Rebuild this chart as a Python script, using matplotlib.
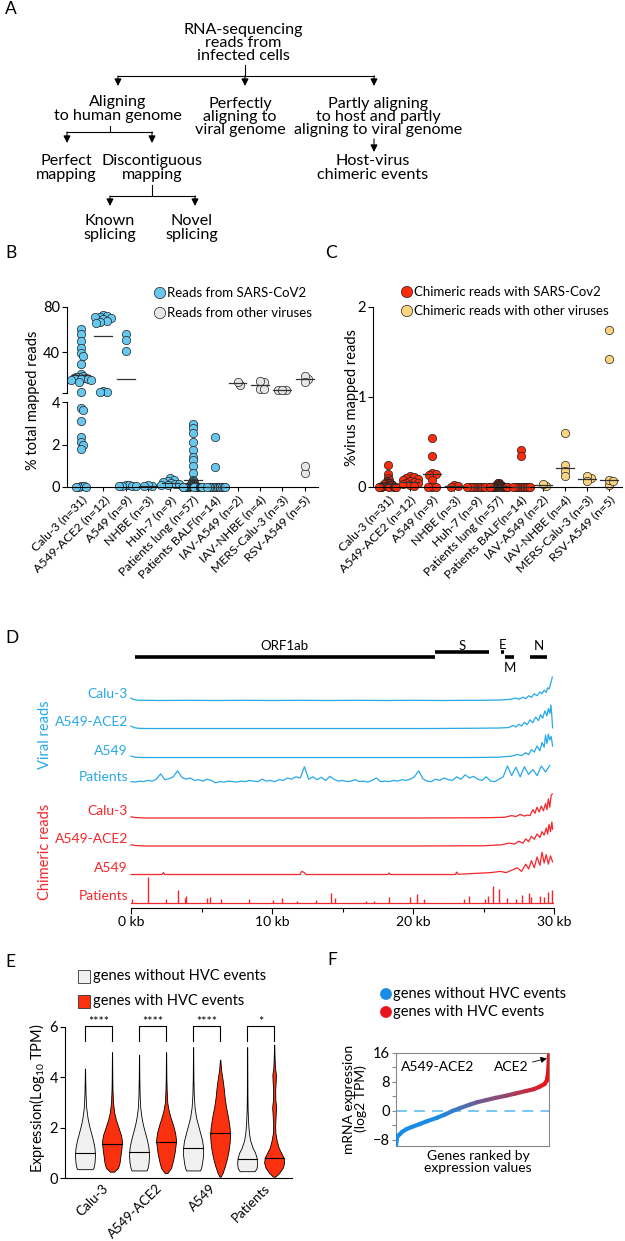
import numpy as np
import matplotlib.pyplot as plt
from matplotlib.collections import LineCollection
from matplotlib.patches import Rectangle

plt.rcParams['font.family'] = ['Lato', 'DejaVu Sans']
plt.rcParams['mathtext.fontset'] = 'custom'
plt.rcParams['mathtext.rm'] = 'Lato'
plt.rcParams['axes.linewidth'] = 0.8

W, H = 625, 1241

# ---------------- data ----------------
# B: % total mapped reads
b_groups = ['Calu-3 (n=31)', 'A549-ACE2 (n=12)', 'A549 (n=9)', 'NHBE (n=3)', 'Huh-7 (n=9)',
            'Patients lung (n=57)', 'Patients BALF(n=14)', 'IAV-A549 (n=2)', 'IAV-NHBE (n=4)',
            'MERS-Calu-3 (n=3)', 'RSV-A549 (n=5)']
b_calu3 = [60.3, 55.8, 50.2, 44.1, 39.1, 36.7, 29.3, 20.8, 19.0, 18.5, 17.8, 17.5, 17.2, 16.7, 16.2,
           15.8, 15.5, 14.0, 5.2, 3.73, 3.62, 3.1, 2.34, 2.13, 2.0, 1.79, 0.04, 0.03, 0.02, 0.02, 0.01]
b_ace2 = [73, 72, 71.5, 71, 70, 69, 68, 67, 66, 6.2, 5.0, 4.6]
b_a549 = [55.8, 50.8, 41.1, 0.1, 0.08, 0.06, 0.05, 0.04, 0.03]
b_nhbe = [0.06, 0.08, 0.05]
b_huh7 = [0.44, 0.35, 0.3, 0.25, 0.2, 0.15, 0.12, 0.1, 0.08]
b_lung = [2.95, 2.79, 2.53, 2.1, 1.74, 1.43, 1.27, 1.0, 0.64, 0.33,
          0.3, 0.25, 0.2, 0.18, 0.15, 0.12, 0.1, 0.1, 0.08, 0.08,
          0.06, 0.05, 0.05, 0.04, 0.04, 0.03, 0.03, 0.03, 0.02, 0.02,
          0.02, 0.02, 0.01, 0.01, 0.01, 0.01, 0.01, 0.01, 0.01, 0.01, 0.01,
          0, 0, 0, 0, 0, 0, 0, 0, 0, 0, 0, 0, 0, 0, 0, 0]
b_balf = [2.34, 0.96, 0, 0, 0, 0, 0, 0, 0, 0, 0, 0, 0, 0]
b_iav_a549 = [11.1, 14.0]
b_iav_nhbe = [14.0, 14.6, 7.2, 7.2]
b_mers = [6.6, 6.6, 6.7]
b_rsv = [16.4, 18.7, 13.4, 0.64, 1.0]
b_vals = [b_calu3, b_ace2, b_a549, b_nhbe, b_huh7, b_lung, b_balf, b_iav_a549, b_iav_nhbe, b_mers, b_rsv]
b_center = [20, 54.4, 16.7, 0.05, 0.2, 0.33, 0.02, 12.5, 11, 6.6, 16]

# C: % virus mapped reads (chimeric)
c_calu3 = [0.25, 0.15, 0.1, 0.08, 0.07, 0.06, 0.05, 0.05, 0.04, 0.04, 0.03, 0.03, 0.03, 0.02, 0.02,
           0.02, 0.02, 0.01, 0.01, 0.01, 0.01, 0.01, 0, 0, 0, 0, 0, 0, 0, 0, 0]
c_ace2 = [0.12, 0.11, 0.1, 0.09, 0.08, 0.07, 0.06, 0.05, 0.04, 0.03, 0.02, 0.01]
c_a549 = [0.55, 0.34, 0.16, 0.14, 0.13, 0.08, 0, 0, 0]
c_nhbe = [0.02, 0.01, 0.0]
c_huh7 = [0, 0, 0, 0, 0, 0, 0, 0, 0]
c_lung = [0.05, 0.04, 0.04, 0.03, 0.03, 0.03, 0.02, 0.02, 0.02, 0.02, 0.02, 0.02,
          0.01, 0.01, 0.01, 0.01, 0.01, 0.01, 0.01, 0.01, 0.01, 0.01] + [0] * 35
c_balf = [0.41, 0.34] + [0] * 12
c_iav_a549 = [0.01, 0.03]
c_iav_nhbe = [0.6, 0.25, 0.18, 0.12]
c_mers = [0.1, 0.12, 0.07]
c_rsv = [1.74, 1.42, 0.02, 0.08, 0.07]
c_vals = [c_calu3, c_ace2, c_a549, c_nhbe, c_huh7, c_lung, c_balf, c_iav_a549, c_iav_nhbe, c_mers, c_rsv]
c_center = [0.03, 0.06, 0.146, 0.01, 0, 0.01, 0, 0.02, 0.21, 0.09, 0.08]

# D: coverage along SARS-CoV-2 genome (kb, relative height)
gene_names = ['ORF1ab', 'S', 'E', 'M', 'N']
gene_start = [0.266, 21.563, 26.245, 26.523, 28.274]
gene_end = [21.555, 25.384, 26.472, 27.191, 29.533]

v_calu3_pos = [0, 0.2, 0.5, 1, 2, 4, 6, 8, 10, 12, 14, 16, 18, 20, 22, 24, 25, 26, 26.5, 27, 27.3, 27.5,
               27.8, 28.0, 28.2, 28.4, 28.6, 28.8, 29.0, 29.15, 29.3, 29.45, 29.55, 29.65, 29.75, 29.82, 29.88]
v_calu3_val = [0.12, 0.06, 0.03, 0.03, 0.02, 0.03, 0.02, 0.03, 0.02, 0.03, 0.02, 0.03, 0.02, 0.03, 0.02,
               0.03, 0.03, 0.04, 0.05, 0.08, 0.12, 0.07, 0.16, 0.1, 0.22, 0.15, 0.3, 0.22, 0.38, 0.3, 0.45,
               0.36, 0.55, 0.5, 0.7, 0.85, 1.0]
v_ace2_pos = [0, 0.2, 0.5, 1, 3, 6, 9, 12, 15, 18, 21, 24, 26, 26.8, 27.1, 27.3, 27.5, 27.7, 27.9, 28.1,
              28.3, 28.5, 28.7, 28.9, 29.05, 29.2, 29.35, 29.5, 29.6, 29.7, 29.78, 29.84, 29.9]
v_ace2_val = [0.12, 0.06, 0.03, 0.02, 0.02, 0.02, 0.02, 0.02, 0.02, 0.02, 0.02, 0.03, 0.04, 0.06, 0.15,
              0.08, 0.2, 0.12, 0.28, 0.18, 0.38, 0.26, 0.5, 0.35, 0.6, 0.45, 0.75, 0.55, 0.85, 0.65, 1.0,
              0.6, 0.05]
v_a549_pos = [0, 0.3, 1, 4, 8, 12, 16, 20, 24, 26, 27, 27.4, 27.7, 28.0, 28.2, 28.4, 28.6, 28.8, 29.0,
              29.15, 29.3, 29.4, 29.5, 29.6, 29.7, 29.8, 29.9]
v_a549_val = [0.08, 0.03, 0.02, 0.02, 0.02, 0.02, 0.02, 0.02, 0.02, 0.03, 0.08, 0.15, 0.1, 0.22, 0.14,
              0.35, 0.25, 0.5, 0.3, 0.65, 0.45, 0.95, 0.6, 1.0, 0.75, 0.9, 0.5]
v_pat_val = [0.1, 0.08, 0.12, 0.1, 0.15, 0.12, 0.2, 0.42, 0.18, 0.22,
             0.3, 0.55, 0.28, 0.2, 0.25, 0.15, 0.18, 0.12, 0.2, 0.15,
             0.05, 0.1, 0.08, 0.12, 0.1, 0.08, 0.12, 0.1, 0.15, 0.12,
             0.1, 0.2, 0.12, 0.15, 0.1, 0.18, 0.15, 0.25, 0.2, 0.3,
             0.25, 0.72, 0.2, 0.3, 0.18, 0.28, 0.15, 0.32, 0.2, 0.12,
             0.15, 0.1, 0.12, 0.18, 0.1, 0.12, 0.08, 0.15, 0.25, 0.1,
             0.12, 0.1, 0.15, 0.12, 0.18, 0.15, 0.2, 0.3, 0.55, 0.22,
             0.12, 0.1, 0.2, 0.15, 0.25, 0.18, 0.15, 0.3, 0.2, 0.38,
             0.25, 0.32, 0.2, 0.15, 0.3, 0.12, 0.1, 0.2, 0.3, 0.75,
             0.35, 0.7, 0.3, 0.72, 0.4, 0.6, 0.35, 0.75, 0.5, 0.78]
v_pat_pos = np.arange(len(v_pat_val)) * 0.3

r_calu3_pos = [0, 0.3, 1, 5, 10, 15, 20, 25, 26.5, 27.0, 27.3, 27.6, 27.9, 28.1, 28.3, 28.5, 28.65, 28.8,
               28.95, 29.1, 29.25, 29.4, 29.5, 29.6, 29.7, 29.8, 29.88]
r_calu3_val = [0.05, 0.02, 0, 0, 0, 0, 0, 0.01, 0.03, 0.1, 0.06, 0.15, 0.08, 0.12, 0.1, 0.35, 0.2, 0.45,
               0.25, 0.5, 0.3, 0.6, 0.35, 0.8, 0.45, 0.95, 1.0]
r_ace2_pos = [0, 0.3, 1, 5, 10, 15, 20, 25, 26.3, 26.8, 27.2, 27.5, 27.8, 28.0, 28.2, 28.4, 28.6, 28.8,
              29.0, 29.15, 29.3, 29.45, 29.55, 29.65, 29.75, 29.85, 29.9]
r_ace2_val = [0.05, 0.02, 0, 0, 0, 0, 0, 0.01, 0.05, 0.12, 0.08, 0.2, 0.12, 0.3, 0.18, 0.4, 0.28, 0.5,
              0.35, 0.6, 0.45, 0.75, 0.5, 0.9, 0.6, 1.0, 0.7]
r_a549_pos = [0, 2.2, 2.3, 2.4, 6, 12.0, 12.1, 12.3, 12.4, 18.2, 18.3, 18.4, 23.0, 23.1, 23.2, 24.2, 25.5,
              25.8, 26.2, 26.6, 27.0, 27.4, 27.7, 28.0, 28.2, 28.4, 28.6, 28.8, 29.0, 29.15, 29.3, 29.45,
              29.6, 29.75, 29.9]
r_a549_val = [0.02, 0.02, 0.1, 0.02, 0.02, 0.02, 0.15, 0.1, 0.02, 0.02, 0.08, 0.02, 0.02, 0.12, 0.03, 0.06,
              0.1, 0.12, 0.15, 0.1, 0.2, 0.3, 0.15, 0.45, 0.25, 0.6, 0.3, 0.75, 0.4, 0.95, 0.5, 0.85, 0.45,
              0.8, 0.55]
r_pat_pos = [0.1, 1.2, 2.5, 3.3, 3.8, 3.9, 5.4, 5.6, 6.4, 8.4, 10.1, 10.7, 11.8, 13.1, 14.2, 14.5, 16.7,
             17.2, 18.3, 19.8, 20.3, 20.8, 23.6, 24.0, 25.1, 25.3, 25.7, 26.1, 26.7, 27.3, 27.7, 28.2,
             28.4, 29.0, 29.3, 29.6, 29.85]
r_pat_val = [0.15, 1.08, 0.15, 0.53, 0.2, 0.3, 0.2, 0.25, 0.15, 0.17, 0.12, 0.2, 0.1, 0.13, 0.42, 0.2,
             0.1, 0.1, 0.25, 0.25, 0.38, 0.15, 0.15, 0.3, 0.15, 0.3, 0.7, 0.6, 0.2, 0.15, 0.35, 0.4,
             0.25, 0.3, 0.25, 0.45, 0.55]
track_labels = ['Calu-3', 'A549-ACE2', 'A549', 'Patients']

# E: expression violins (level, relative density)
e_groups = ['Calu-3', 'A549-ACE2', 'A549', 'Patients']
e_levels = [
    [0.35, 0.4, 0.6, 0.9, 1.2, 1.5, 1.8, 2.1, 2.4, 2.8, 3.3, 3.8, 4.35],
    [0.25, 0.4, 0.6, 0.9, 1.2, 1.45, 1.7, 2.0, 2.3, 2.6, 3.0, 3.5, 4.0, 5.0],
    [0.3, 0.4, 0.6, 0.9, 1.2, 1.5, 1.8, 2.1, 2.4, 2.8, 3.3, 4.0, 4.9],
    [0.2, 0.4, 0.7, 1.0, 1.3, 1.5, 1.8, 2.1, 2.4, 2.7, 3.0, 3.5, 4.0, 5.0],
    [0.3, 0.4, 0.6, 0.9, 1.2, 1.5, 1.8, 2.1, 2.4, 2.8, 3.3, 4.0, 5.2],
    [0.05, 0.2, 0.5, 0.8, 1.1, 1.4, 1.7, 2.0, 2.4, 2.8, 3.2, 3.6, 3.9, 4.3, 4.7],
    [0.27, 0.4, 0.6, 0.8, 1.0, 1.2, 1.5, 1.8, 2.2, 2.7, 3.3, 4.2, 5.2],
    [0.05, 0.2, 0.4, 0.6, 0.8, 1.0, 1.2, 1.5, 1.8, 2.1, 2.5, 2.8, 3.1, 3.5, 3.8, 4.1, 4.4, 4.8, 5.3],
]
e_density = [
    [0.75, 0.85, 0.95, 1.0, 0.95, 0.8, 0.6, 0.4, 0.25, 0.12, 0.06, 0.03, 0.01],
    [0.2, 0.6, 0.75, 0.85, 0.95, 1.0, 0.9, 0.65, 0.4, 0.22, 0.1, 0.05, 0.03, 0.01],
    [0.75, 0.85, 0.95, 1.0, 0.95, 0.8, 0.6, 0.4, 0.25, 0.12, 0.06, 0.03, 0.01],
    [0.15, 0.5, 0.7, 0.85, 0.95, 1.0, 0.9, 0.7, 0.45, 0.25, 0.12, 0.06, 0.03, 0.01],
    [0.7, 0.8, 0.9, 1.0, 1.0, 0.9, 0.7, 0.5, 0.3, 0.15, 0.07, 0.03, 0.01],
    [0.05, 0.25, 0.5, 0.7, 0.85, 0.95, 1.0, 0.95, 0.8, 0.6, 0.45, 0.35, 0.25, 0.1, 0.02],
    [0.75, 0.95, 1.0, 0.95, 0.8, 0.55, 0.3, 0.18, 0.1, 0.05, 0.03, 0.02, 0.01],
    [0.1, 0.5, 0.85, 1.0, 0.95, 0.7, 0.45, 0.25, 0.12, 0.1, 0.15, 0.2, 0.12, 0.1, 0.15, 0.18, 0.08, 0.04, 0.01],
]
e_median = [1.0, 1.36, 1.03, 1.44, 1.2, 1.8, 0.76, 0.78]
e_stars = ['****', '****', '****', '*']

# F: ranked expression curve
f_rank = [0, 0.005, 0.01, 0.026, 0.04, 0.07, 0.1, 0.157, 0.2, 0.268, 0.32, 0.37, 0.42, 0.48, 0.53, 0.59,
          0.65, 0.72, 0.78, 0.85, 0.9, 0.94, 0.97, 0.985, 0.99, 0.995, 1.0]
f_vals = [-9.7, -7.8, -7.0, -6.4, -5.8, -5.0, -4.5, -3.6, -2.9, -1.9, -1.0, 0.0, 0.8, 1.7, 2.4, 3.0,
          3.6, 4.2, 4.8, 5.5, 6.0, 6.7, 7.4, 8.3, 9.3, 11.0, 15.4]
f_hvc = [0, 0, 0, 0, 0, 0, 0, 0, 0, 0, 0.05, 0.12, 0.2, 0.3, 0.38, 0.45, 0.5, 0.58, 0.68, 0.78, 0.85,
         0.92, 1.0, 1.0, 1.0, 1.0, 1.0]

# ---------------- styles ----------------
BLUE_B, GRAY_B = '#66c8ee', '#e6e6e6'
RED_C, YEL_C = '#fa2c0c', '#fbd480'
BLUE_D, RED_D = '#27a9e8', '#f5262b'
GRAY_E, RED_E = '#f0f0f0', '#fb300f'
BLUE_F, RED_F = np.array([0.10, 0.55, 0.90]), np.array([0.92, 0.08, 0.10])

fig = plt.figure(figsize=(W / 100, H / 100), dpi=100)


def box(l, t, r, b):
    return fig.add_axes([l / W, 1 - b / H, (r - l) / W, (b - t) / H])


ov = box(0, 0, W, H)
ov.set_xlim(0, W)
ov.set_ylim(H, 0)
ov.axis('off')

for lab, x, y in [('A', 5, 9), ('B', 5, 253), ('C', 325, 253), ('D', 5, 638), ('E', 5, 962), ('F', 327, 960)]:
    ov.text(x, y, lab, fontsize=12.5, va='center', ha='left')

# ---------------- A: flow chart ----------------
def ftext(x, y, s):
    ov.text(x, y, s, ha='center', va='center', fontsize=11.6, linespacing=0.92)


def fline(xs, ys):
    ov.plot(xs, ys, color='k', lw=0.8)


def farrow(x, y0, y1):
    ov.annotate('', xy=(x, y1), xytext=(x, y0),
                arrowprops=dict(arrowstyle='-|>,head_length=0.6,head_width=0.3', mutation_scale=7,
                                lw=0.8, color='k', shrinkA=0, shrinkB=0))


ftext(243, 43, 'RNA-sequencing\nreads from\ninfected cells')
fline([245, 245], [65, 76])
fline([118, 374], [76, 76])
for x in (118, 245, 374):
    farrow(x, 76, 86)
ftext(118, 109, 'Aligning\nto human genome')
ftext(240, 117, 'Perfectly\naligning to\nviral genome')
ftext(378, 117, 'Partly aligning\nto host and partly\naligning to viral genome')
farrow(374, 139, 152)
ftext(373, 168, 'Host-virus\nchimeric events')
fline([110, 110], [126, 132])
fline([67, 152], [132, 132])
farrow(67, 132, 143)
farrow(152, 132, 143)
ftext(66, 168, 'Perfect\nmapping')
ftext(152, 168, 'Discontiguous\nmapping')
fline([152, 152], [185, 196])
fline([110, 195], [196, 196])
farrow(110, 196, 206)
farrow(195, 196, 206)
ftext(110, 228, 'Known\nsplicing')
ftext(192, 228, 'Novel\nsplicing')


# ---------------- B / C: dot plots ----------------
def swarm(ypx, d, maxw):
    ypx = np.asarray(ypx, float)
    out = np.zeros(len(ypx))
    px_, py_ = [], []
    for k in np.argsort(-ypx, kind='stable'):
        y = ypx[k]
        cands = [0.0]
        for a, b in zip(px_, py_):
            dy = abs(b - y)
            if dy < d:
                dx = np.sqrt(d * d - dy * dy)
                cands += [a + dx, a - dx]
        cands.sort(key=abs)
        c = cands[-1]
        for c0 in cands:
            if all((c0 - a) ** 2 + (y - b) ** 2 >= d * d - 1e-6 for a, b in zip(px_, py_)):
                c = c0
                break
        out[k] = c
        px_.append(c)
        py_.append(y)
    m = np.abs(out).max() if len(out) else 0
    if m > maxw:
        out *= maxw / m
    return out


def style_dot_axis(ax, groups, bottom=True):
    ax.spines['top'].set_visible(False)
    ax.spines['right'].set_visible(False)
    ax.tick_params(axis='y', labelsize=10.5, length=3.5, width=0.8, pad=1.5)
    if bottom:
        ax.set_xticks(range(len(groups)))
        ax.set_xticklabels(groups, rotation=45, ha='right', va='top', rotation_mode='anchor', fontsize=8.8)
        ax.tick_params(axis='x', length=3, width=0.8, pad=2)
    else:
        ax.spines['bottom'].set_visible(False)
        ax.set_xticks([])


XL_B = (-0.63, 10.6)
bu = box(67, 307, 318, 393)
bl = box(67, 402, 318, 487)
for ax in (bu, bl):
    ax.set_xlim(*XL_B)
    ax.patch.set_visible(False)
bu.set_ylim(4, 80)
bl.set_ylim(0, 4)
style_dot_axis(bu, b_groups, bottom=False)
style_dot_axis(bl, b_groups)
bu.set_yticks([4, 40, 80])
bu.set_yticklabels(['', '40', '80'])
bl.set_yticks([0, 2, 4])

ppu_b = (318 - 67) / (XL_B[1] - XL_B[0])
for i, vals in enumerate(b_vals):
    vals = np.asarray(vals, float)
    col = BLUE_B if i < 7 else GRAY_B
    ypx = [(bu if v >= 4 else bl).transData.transform((0, v))[1] for v in vals]
    off = swarm(ypx, 4.2, 10) / ppu_b
    for ax, mask in ((bu, vals >= 4), (bl, vals < 4)):
        if mask.any():
            ax.scatter(i + off[mask], vals[mask], s=36, c=col, edgecolors='#222222', linewidths=0.5,
                       clip_on=False, zorder=2)
    cax = bu if b_center[i] >= 4 else bl
    cax.plot([i - 0.4, i + 0.4], [b_center[i]] * 2, color='#333333', lw=0.9, zorder=3, clip_on=False)

ov.text(33, 400, '% total mapped reads', rotation=90, ha='center', va='center', fontsize=10.5)
ov.scatter([160, 160], [293, 313], s=66, c=[BLUE_B, GRAY_B], edgecolors='#222222', linewidths=0.5)
ov.text(167, 293, 'Reads from SARS-CoV2', va='center', fontsize=9.5)
ov.text(167, 313, 'Reads from other viruses', va='center', fontsize=9.5)

XL_C = (-0.68, 10.59)
cx = box(373, 307, 622, 487)
cx.set_xlim(*XL_C)
cx.set_ylim(0, 2)
cx.patch.set_visible(False)
style_dot_axis(cx, b_groups)
cx.set_yticks([0, 1, 2])
ppu_c = (622 - 373) / (XL_C[1] - XL_C[0])
for i, vals in enumerate(c_vals):
    vals = np.asarray(vals, float)
    col = RED_C if i < 7 else YEL_C
    ypx = [cx.transData.transform((0, v))[1] for v in vals]
    off = swarm(ypx, 4.2, 9) / ppu_c
    cx.scatter(i + off, vals, s=36, c=col, edgecolors='#222222', linewidths=0.5, clip_on=False, zorder=2)
    cx.plot([i - 0.4, i + 0.4], [c_center[i]] * 2, color='#333333', lw=0.9, zorder=3, clip_on=False)

ov.text(352, 397, '%virus mapped reads', rotation=90, ha='center', va='center', fontsize=10.5)
ov.scatter([407, 407], [292, 311], s=66, c=[RED_C, YEL_C], edgecolors='#222222', linewidths=0.5)
ov.text(414, 292, 'Chimeric reads with SARS-Cov2', va='center', fontsize=9.5)
ov.text(414, 311, 'Chimeric reads with other viruses', va='center', fontsize=9.5)

# ---------------- D: coverage tracks ----------------
AMP = 24
dx = box(131, 640, 554, 908)
dx.set_xlim(0, 30)
dx.set_ylim(0, 268)
dx.patch.set_visible(False)
for s in ('top', 'right', 'left'):
    dx.spines[s].set_visible(False)
dx.set_yticks([])
dx.set_xticks([0, 10, 20, 30])
dx.set_xticklabels(['0 kb', '10 kb', '20 kb', '30 kb'], fontsize=10)
dx.set_xticks([5, 15, 25], minor=True)
dx.tick_params(axis='x', which='major', length=4, width=0.8, pad=2)
dx.tick_params(axis='x', which='minor', length=3, width=0.8)

bases = [207, 179, 150, 124, 90, 62, 33, 5]
track_data = [(v_calu3_pos, v_calu3_val), (v_ace2_pos, v_ace2_val), (v_a549_pos, v_a549_val),
              (v_pat_pos, v_pat_val), (r_calu3_pos, r_calu3_val), (r_ace2_pos, r_ace2_val),
              (r_a549_pos, r_a549_val)]
for k, (pos, val) in enumerate(track_data):
    col = BLUE_D if k < 4 else RED_D
    dx.plot(pos, bases[k] + AMP * np.asarray(val), color=col, lw=0.9, clip_on=False)
dx.plot([0, 29.9], [bases[7], bases[7]], color=RED_D, lw=0.9)
dx.vlines(r_pat_pos, bases[7], bases[7] + AMP * np.asarray(r_pat_val), color=RED_D, lw=1.0)

for k, b in enumerate(bases):
    col = BLUE_D if k < 4 else RED_D
    ov.text(128, 908 - b - 7, track_labels[k % 4], ha='right', va='center', fontsize=10, color=col)
ov.text(45, 735, 'Viral reads', rotation=90, ha='center', va='center', fontsize=10.5, color=BLUE_D)
ov.text(45, 852, 'Chimeric reads', rotation=90, ha='center', va='center', fontsize=10.5, color=RED_D)

gene_y = [251, 256, 256, 251, 251]
gene_label_y = [262, 262, 263, 240, 262]
for name, s, e, gy, ly in zip(gene_names, gene_start, gene_end, gene_y, gene_label_y):
    dx.plot([s, e], [gy, gy], color='k', lw=2.6, solid_capstyle='butt', clip_on=False)
    dx.text((s + e) / 2, ly, name, ha='center', va='center', fontsize=9.5, clip_on=False)

# ---------------- E: violins ----------------
ex = box(65, 1027, 292, 1178)
ex.set_xlim(-0.62, 3.58)
ex.set_ylim(0, 6)
ex.patch.set_visible(False)
ex.spines['top'].set_visible(False)
ex.spines['right'].set_visible(False)
ex.set_yticks([0, 2, 4, 6])
ex.tick_params(axis='y', labelsize=10.5, length=3.5, width=0.8, pad=1.5)
ex.set_xticks(np.arange(4) + 0.06)
ex.set_xticklabels(e_groups, rotation=45, ha='right', va='top', rotation_mode='anchor', fontsize=9.6)
ex.tick_params(axis='x', length=0, pad=3)
HW = 0.185
for k in range(8):
    i, j = divmod(k, 2)
    xc = i + (0.25 if j else -0.25)
    lv = np.asarray(e_levels[k])
    hw = np.asarray(e_density[k]) * HW
    ex.fill_betweenx(lv, xc - hw, xc + hw, facecolor=RED_E if j else GRAY_E, edgecolor='k', lw=0.6, zorder=2)
    w = np.interp(e_median[k], lv, hw)
    ex.plot([xc - w, xc + w], [e_median[k]] * 2, color='k', lw=0.8, zorder=3)
for i, st in enumerate(e_stars):
    ex.plot([i - 0.25, i - 0.25, i + 0.25, i + 0.25], [5.45, 6.02, 6.02, 5.45], color='k', lw=0.8,
            clip_on=False)
    ex.text(i, 6.2, st, ha='center', va='center', fontsize=9, clip_on=False)

ov.text(37, 1098, 'Expression(Log$_{10}$ TPM)', rotation=90, ha='center', va='center', fontsize=10.5)
ov.add_patch(Rectangle((78, 970), 12, 13, facecolor=GRAY_E, edgecolor='#333333', lw=0.6))
ov.add_patch(Rectangle((78, 995), 12, 13, facecolor=RED_E, edgecolor='#333333', lw=0.6))
ov.text(93, 976, 'genes without HVC events', va='center', fontsize=10.5)
ov.text(93, 1001, 'genes with HVC events', va='center', fontsize=10.5)

# ---------------- F: ranked expression ----------------
fx = box(396, 1053, 549, 1146)
fx.set_xlim(0, 1)
fx.set_ylim(-9.7, 16)
for s in fx.spines.values():
    s.set_color('#888888')
    s.set_linewidth(0.8)
fx.set_xticks([])
fx.set_yticks([-8, 0, 8, 16])
fx.set_yticklabels(['\u22128', '0', '8', '16'])
fx.set_yticks([-4, 4, 12], minor=True)
fx.tick_params(axis='y', which='both', labelsize=10.5, length=3, width=0.8, color='#888888', pad=1.5)
fx.axhline(0, color='#6ec3f4', lw=1.3, dashes=(6, 4))
pts = np.column_stack([f_rank, f_vals])
segs = np.stack([pts[:-1], pts[1:]], axis=1)
hv = np.asarray(f_hvc)
mix = (hv[:-1] + hv[1:]) / 2
cols = [tuple(BLUE_F * (1 - m) + RED_F * m) for m in mix]
fx.add_collection(LineCollection(segs, colors=cols, linewidths=3, capstyle='round', zorder=3))
fx.text(0.035, 12.2, 'A549-ACE2', va='center', fontsize=10)
fx.annotate('ACE2', xy=(0.995, 14.6), xytext=(0.865, 12.0), ha='right', va='center', fontsize=10,
            arrowprops=dict(arrowstyle='-|>,head_length=0.6,head_width=0.3', mutation_scale=6, lw=0.6,
                            color='k', shrinkA=1, shrinkB=1))
ov.text(355, 1099, 'mRNA expression\n(log2 TPM)', rotation=90, ha='center', va='center', fontsize=10,
        linespacing=0.95)
ov.text(478, 1162, 'Genes ranked by\nexpression values', ha='center', va='center', fontsize=10,
        linespacing=0.95)
ov.scatter([386, 386], [994, 1012], s=72, c=[tuple(BLUE_F), tuple(RED_F)], edgecolors='none')
ov.text(393, 994, 'genes without HVC events', va='center', fontsize=10.5)
ov.text(393, 1012, 'genes with HVC events', va='center', fontsize=10.5)

fig.savefig('out.png', dpi=100)
